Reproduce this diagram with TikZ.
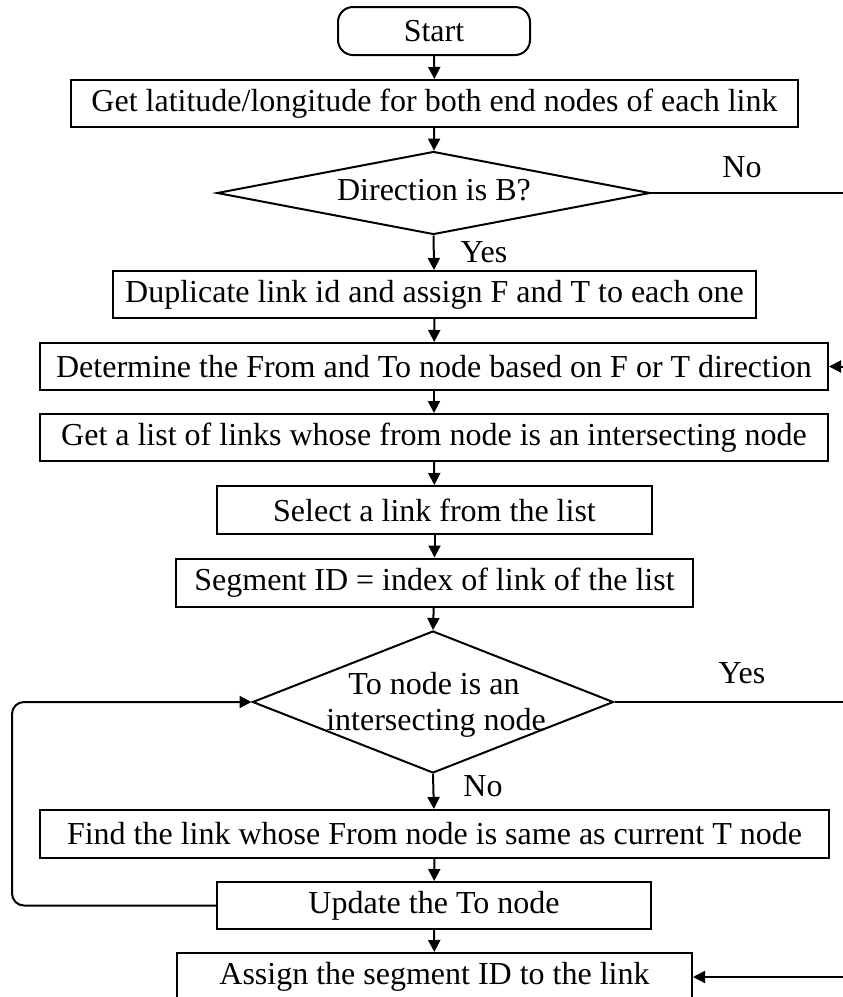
\documentclass[tikz,border=0pt]{standalone}
\usepackage{fontspec}
\setmainfont{Liberation Serif}
\usetikzlibrary{shapes.geometric,arrows.meta}
\begin{document}
\begin{tikzpicture}[x=1pt,y=-1pt,
  every node/.style={font=\fontsize{32}{38}\selectfont},
  box/.style={draw,line width=2pt,inner sep=0pt,minimum height=47pt},
  termbox/.style={box,rounded corners=15pt},
  dia/.style={draw,line width=2pt,diamond,inner sep=0pt},
  conn/.style={line width=2pt},
  arr/.style={conn,-{Triangle[length=12pt,width=12pt]}},
  lbl/.style={inner sep=0pt}]
\useasboundingbox (0,0) rectangle (843,997);

\node[termbox,minimum width=192pt,minimum height=48pt] (start) at (434,31) {Start};
\node[box,minimum width=727pt] (b1) at (434.5,103.5) {Get latitude/longitude for both end nodes of each link};
\node[dia,minimum width=433pt,minimum height=83pt] (d1) at (433.5,193) {};
\node[lbl] (d1t) at (434,190) {Direction is B?};
\node[box,minimum width=643pt] (b2) at (434.5,294.5) {Duplicate link id and assign F and T to each one};
\node[box,minimum width=788pt] (b3) at (434,366.5) {Determine the From and To node based on F or T direction};
\node[box,minimum width=788pt] (b4) at (434,437.5) {Get a list of links whose from node is an intersecting node};
\node[box,minimum width=435pt,minimum height=48pt] (b5) at (434.5,510) {Select a link from the list};
\node[box,minimum width=517pt,minimum height=48pt] (b6) at (434.5,582.5) {Segment ID = index of link of the list};
\node[dia,minimum width=361pt,minimum height=142pt] (d2) at (433,702) {};
\node[lbl] (d2a) at (434,684) {To node is an};
\node[lbl] (d2b) at (436,723) {intersecting node};
\node[box,minimum width=789pt,minimum height=48pt] (b7) at (434.5,834) {Find the link whose From node is same as current T node};
\node[box,minimum width=434pt] (b8) at (434,905.5) {Update the To node};
\node[box,minimum width=515pt,minimum height=48pt] (b9) at (434.5,977) {Assign the segment ID to the link};

\node[lbl] (lno1) at (742,167) {No};
\node[lbl] (lyes1) at (484,252) {Yes};
\node[lbl] (lyes2) at (742,673) {Yes};
\node[lbl] (lno2) at (483,786) {No};

\coordinate (r1) at (850,193);
\coordinate (r2) at (850,366.5);
\coordinate (r3) at (850,702);
\coordinate (r4) at (850,977);
\coordinate (lp) at (12,800);

\draw[arr] (start) -- (b1);
\draw[arr] (b1) -- (d1);
\draw[arr] (d1.south) -- (b2);
\draw[arr] (b2) -- (b3);
\draw[arr] (b3) -- (b4);
\draw[arr] (b4) -- (b5);
\draw[arr] (b5) -- (b6);
\draw[arr] (b6) -- (d2.north);
\draw[arr] (d2.south) -- (b7);
\draw[arr] (b7) -- (b8);
\draw[arr] (b8) -- (b9);
\draw[conn] (d1.east) -- (r1);
\draw[arr] (r2) -- (b3.east);
\draw[conn] (d2.east) -- (r3);
\draw[arr] (r4) -- (b9.east);
\draw[arr,rounded corners=12pt] (b8.west) -- (b8.west -| lp) -- (lp |- d2.west) -- (d2.west);
\end{tikzpicture}
\end{document}
